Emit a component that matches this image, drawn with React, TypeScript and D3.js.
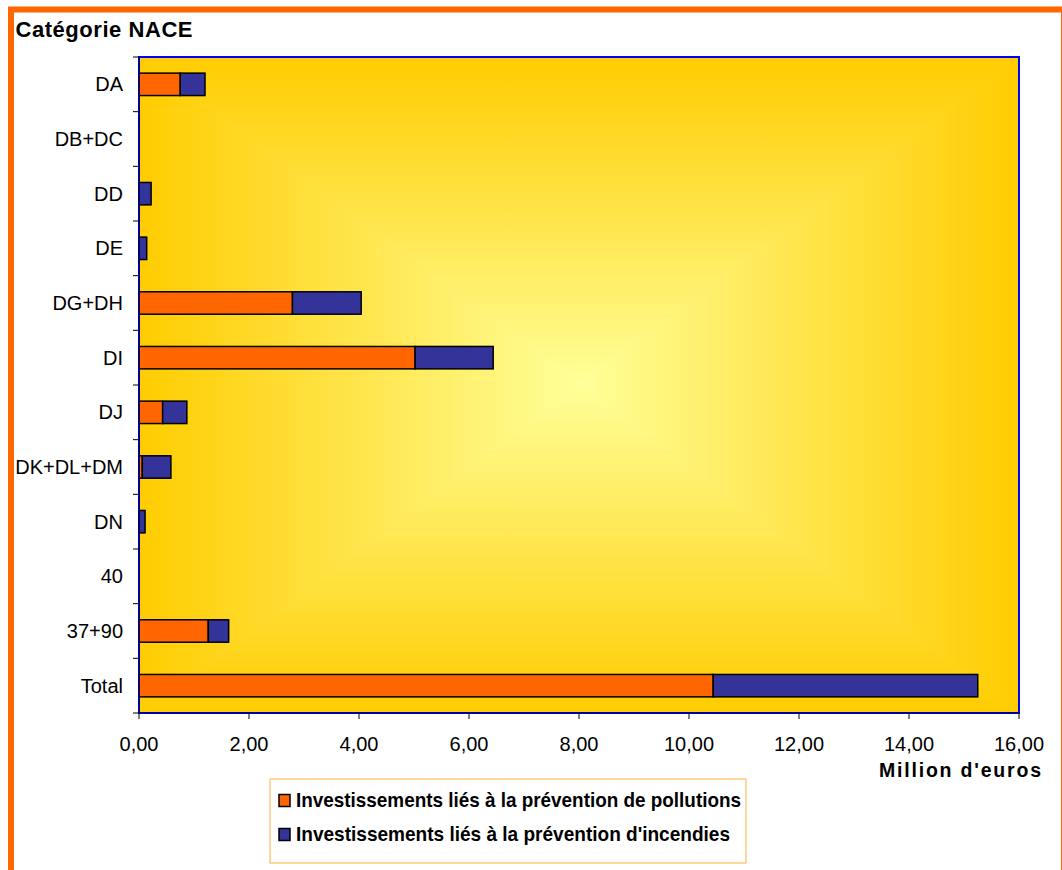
import React from "react";
import * as d3 from "d3";

// NACE categories (top to bottom) and investments in million euros
const categories = ["DA", "DB+DC", "DD", "DE", "DG+DH", "DI", "DJ", "DK+DL+DM", "DN", "40", "37+90", "Total"];
const pollution = [0.75, 0, 0, 0, 2.79, 5.02, 0.43, 0.06, 0, 0, 1.26, 10.44];
const fire = [0.45, 0, 0.22, 0.14, 1.25, 1.42, 0.44, 0.52, 0.11, 0, 0.37, 4.81];
const xTicks = [0, 2, 4, 6, 8, 10, 12, 14, 16];
const seriesNames = [
  "Investissements liés à la prévention de pollutions",
  "Investissements liés à la prévention d'incendies",
];
const seriesColors = ["#FF6600", "#333399"];

const W = 1062;
const H = 870;
const plot = { left: 139, right: 1019, top: 57, bottom: 713 };
const FONT = "'Liberation Sans', Arial, Helvetica, sans-serif";

export default function App() {
  const x = d3.scaleLinear().domain([0, 16]).range([plot.left, plot.right]);
  const band = d3
    .scaleBand<string>()
    .domain(categories)
    .range([plot.top, plot.bottom])
    .paddingInner(0.59)
    .paddingOuter(0.295);
  const step = band.step();
  const fmt = (v: number) => d3.format(".2f")(v).replace(".", ",");

  const cx = (plot.left + plot.right) / 2;
  const cy = (plot.top + plot.bottom) / 2;
  const edge = "#FFCC00";
  const mid = "#FFFF99";

  const stacked = categories.map((c, i) => {
    const a = pollution[i];
    const b = fire[i];
    return { c, segs: [[0, a], [a, a + b]] as [number, number][] };
  });

  const boundaries = d3.range(categories.length + 1).map((i) => plot.top + i * step);

  // four triangles meeting at the centre, each shaded from its edge inwards
  const tri = [
    { id: "gTop", pts: `${plot.left},${plot.top} ${plot.right},${plot.top} ${cx},${cy}` },
    { id: "gBottom", pts: `${plot.left},${plot.bottom} ${plot.right},${plot.bottom} ${cx},${cy}` },
    { id: "gLeft", pts: `${plot.left},${plot.top} ${plot.left},${plot.bottom} ${cx},${cy}` },
    { id: "gRight", pts: `${plot.right},${plot.top} ${plot.right},${plot.bottom} ${cx},${cy}` },
  ];

  return (
    <svg
      width={W}
      height={H}
      style={{ position: "absolute", left: 0, top: 0, display: "block" }}
      fontFamily={FONT}
    >
      <defs>
        <linearGradient id="gLeft" gradientUnits="userSpaceOnUse" x1={plot.left} y1={0} x2={cx} y2={0}>
          <stop offset="0" stopColor={edge} />
          <stop offset="1" stopColor={mid} />
        </linearGradient>
        <linearGradient id="gRight" gradientUnits="userSpaceOnUse" x1={plot.right} y1={0} x2={cx} y2={0}>
          <stop offset="0" stopColor={edge} />
          <stop offset="1" stopColor={mid} />
        </linearGradient>
        <linearGradient id="gTop" gradientUnits="userSpaceOnUse" x1={0} y1={plot.top} x2={0} y2={cy}>
          <stop offset="0" stopColor={edge} />
          <stop offset="1" stopColor={mid} />
        </linearGradient>
        <linearGradient id="gBottom" gradientUnits="userSpaceOnUse" x1={0} y1={plot.bottom} x2={0} y2={cy}>
          <stop offset="0" stopColor={edge} />
          <stop offset="1" stopColor={mid} />
        </linearGradient>
        <clipPath id="plotClip">
          <rect x={plot.left} y={plot.top} width={plot.right - plot.left} height={plot.bottom - plot.top} />
        </clipPath>
      </defs>

      <rect x={0} y={0} width={W} height={H} fill="#FFFFFF" />
      {/* chart frame */}
      <rect x={11} y={9.5} width={1053} height={900} fill="none" stroke="#FF6600" strokeWidth={6} />

      {/* plot background: rectangular gradient from the centre */}
      <g clipPath="url(#plotClip)">
        {tri.map((t) => (
          <polygon
            key={t.id}
            points={t.pts}
            fill={`url(#${t.id})`}
            stroke={`url(#${t.id})`}
            strokeWidth={1.2}
            strokeLinejoin="round"
          />
        ))}
      </g>
      <rect
        x={plot.left}
        y={plot.top}
        width={plot.right - plot.left}
        height={plot.bottom - plot.top}
        fill="none"
        stroke="#0000FF"
        strokeWidth={2}
      />

      {/* bars */}
      {stacked.map((d) =>
        d.segs.map(([s, e], k) =>
          e - s > 0 ? (
            <rect
              key={d.c + k}
              x={x(s)}
              y={band(d.c)}
              width={x(e) - x(s)}
              height={band.bandwidth()}
              fill={seriesColors[k]}
              stroke="#000000"
              strokeWidth={1.5}
            />
          ) : null
        )
      )}

      {/* y axis */}
      <line x1={plot.left} x2={plot.left} y1={plot.top} y2={plot.bottom} stroke="#000080" strokeWidth={1.5} />
      {boundaries.map((y, i) => (
        <line key={"yt" + i} x1={plot.left - 6} x2={plot.left} y1={y} y2={y} stroke="#000000" strokeWidth={1} />
      ))}
      {categories.map((c) => (
        <text
          key={"yl" + c}
          x={123}
          y={(band(c) as number) + band.bandwidth() / 2 + 7}
          textAnchor="end"
          fontSize={20}
          fill="#000000"
        >
          {c}
        </text>
      ))}

      {/* x axis */}
      <line x1={plot.left} x2={plot.right} y1={plot.bottom} y2={plot.bottom} stroke="#000080" strokeWidth={1.5} />
      {xTicks.map((t) => (
        <g key={"xt" + t}>
          <line x1={x(t)} x2={x(t)} y1={plot.bottom} y2={plot.bottom + 6} stroke="#000000" strokeWidth={1} />
          <text x={x(t)} y={751} textAnchor="middle" fontSize={20} fill="#000000">
            {fmt(t)}
          </text>
        </g>
      ))}

      {/* titles */}
      <text x={15.5} y={37} fontSize={22} fontWeight="bold" textLength={177} lengthAdjust="spacing">
        Catégorie NACE
      </text>
      <text x={879} y={777} fontSize={19.5} fontWeight="bold" textLength={162} lengthAdjust="spacing">
        Million d'euros
      </text>

      {/* legend */}
      <rect x={270} y={779} width={476} height={84} fill="#FFFFFF" stroke="#FFB040" strokeWidth={1} />
      {seriesNames.map((name, i) => (
        <g key={"lg" + i}>
          <rect
            x={279}
            y={794.5 + i * 34}
            width={11}
            height={12}
            fill={seriesColors[i]}
            stroke="#000000"
            strokeWidth={1.5}
          />
          <text
            x={296}
            y={806.7 + i * 34}
            fontSize={21}
            fontWeight="bold"
            textLength={i === 0 ? 445 : 434}
            lengthAdjust="spacingAndGlyphs"
          >
            {name}
          </text>
        </g>
      ))}
    </svg>
  );
}
